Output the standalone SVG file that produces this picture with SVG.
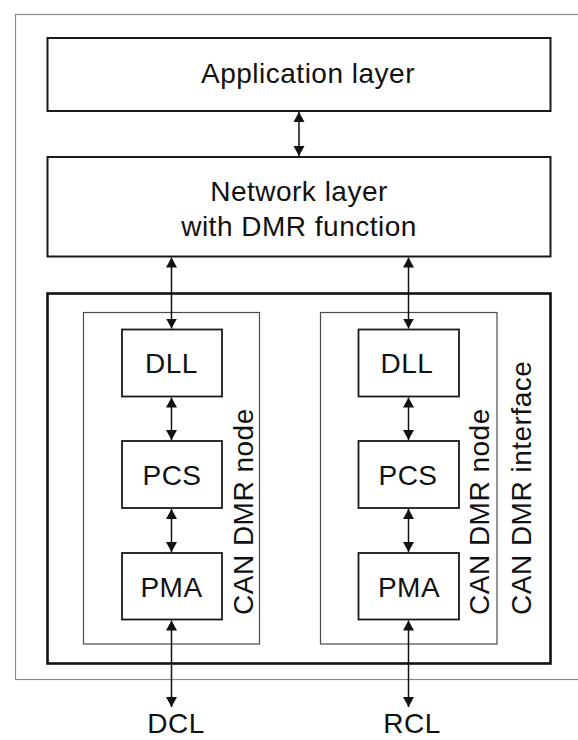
<svg xmlns="http://www.w3.org/2000/svg" width="578" height="740" viewBox="0 0 578 740">
  <style>
    .frame { fill: none; stroke: #8a8a8a; stroke-width: 1.2; }
    .layer { fill: #ffffff; stroke: #1a1a1a; stroke-width: 2; }
    .iface { fill: none; stroke: #111111; stroke-width: 2.6; }
    .node { fill: none; stroke: #4a4a4a; stroke-width: 1.2; }
    .blk { fill: #ffffff; stroke: #1a1a1a; stroke-width: 1.8; }
    .lbl { font-family: "Liberation Sans", Arial, Helvetica, sans-serif; font-size: 28px; letter-spacing: 0.5px; fill: #111111; text-anchor: middle; }
    .vlbl { font-family: "Liberation Sans", Arial, Helvetica, sans-serif; font-size: 28px; letter-spacing: 0.5px; fill: #111111; text-anchor: start; }
    .link { fill: none; stroke: #111111; stroke-width: 1.5; marker-start: url(#head); marker-end: url(#head); }
  </style>
  <defs>
    <marker id="head" markerUnits="userSpaceOnUse" markerWidth="12" markerHeight="12" refX="10" refY="5.5" orient="auto-start-reverse">
      <path d="M0,0 L10,5.5 L0,11 Z" fill="#111111"/>
    </marker>
  </defs>

  <rect width="578" height="740" fill="#ffffff"/>

  <!-- outer device frame, open to the right -->
  <rect class="frame" x="15.5" y="14.5" width="600" height="665"/>

  <g id="application-layer">
    <rect class="layer" x="47.5" y="38" width="503" height="73"/>
    <text class="lbl" x="308" y="83">Application layer</text>
  </g>

  <g id="network-layer">
    <rect class="layer" x="47.5" y="157" width="503" height="99.5"/>
    <text class="lbl" x="299" y="201">Network layer</text>
    <text class="lbl" x="299" y="236">with DMR function</text>
  </g>

  <g id="can-dmr-interface">
    <rect class="iface" x="47.5" y="293.5" width="503" height="370"/>
    <text class="vlbl" transform="translate(531,615) rotate(-90)">CAN DMR interface</text>
  </g>

  <g id="can-dmr-node-left">
    <rect class="node" x="83.5" y="312.5" width="176" height="331.5"/>
    <text class="vlbl" transform="translate(252.5,615) rotate(-90)">CAN DMR node</text>
  </g>

  <g id="can-dmr-node-right">
    <rect class="node" x="320.5" y="312.5" width="176.5" height="331.5"/>
    <text class="vlbl" transform="translate(489,615) rotate(-90)">CAN DMR node</text>
  </g>

  <g id="dll-left">
    <rect class="blk" x="122" y="329.5" width="100" height="67"/>
    <text class="lbl" x="171.5" y="373">DLL</text>
  </g>
  <g id="pcs-left">
    <rect class="blk" x="122" y="441" width="100" height="67"/>
    <text class="lbl" x="172" y="485">PCS</text>
  </g>
  <g id="pma-left">
    <rect class="blk" x="122" y="553" width="100" height="66.5"/>
    <text class="lbl" x="171.5" y="596.5">PMA</text>
  </g>

  <g id="dll-right">
    <rect class="blk" x="358.5" y="329.5" width="100.5" height="67"/>
    <text class="lbl" x="407" y="373">DLL</text>
  </g>
  <g id="pcs-right">
    <rect class="blk" x="358.5" y="441" width="100.5" height="67"/>
    <text class="lbl" x="408" y="485">PCS</text>
  </g>
  <g id="pma-right">
    <rect class="blk" x="358.5" y="553" width="100.5" height="66.5"/>
    <text class="lbl" x="409" y="596.5">PMA</text>
  </g>

  <g id="dcl">
    <text class="lbl" x="176" y="733">DCL</text>
  </g>
  <g id="rcl">
    <text class="lbl" x="412" y="733">RCL</text>
  </g>

  <g id="connectors">
    <line class="link" x1="299" y1="112" x2="299" y2="156"/>
    <line class="link" x1="171.5" y1="257.5" x2="171.5" y2="328.5"/>
    <line class="link" x1="408.5" y1="257.5" x2="408.5" y2="328.5"/>
    <line class="link" x1="171.5" y1="397.5" x2="171.5" y2="440"/>
    <line class="link" x1="408.5" y1="397.5" x2="408.5" y2="440"/>
    <line class="link" x1="171.5" y1="509" x2="171.5" y2="552"/>
    <line class="link" x1="408.5" y1="509" x2="408.5" y2="552"/>
    <line class="link" x1="171.5" y1="620.5" x2="171.5" y2="707"/>
    <line class="link" x1="408.5" y1="620.5" x2="408.5" y2="707"/>
  </g>
</svg>
